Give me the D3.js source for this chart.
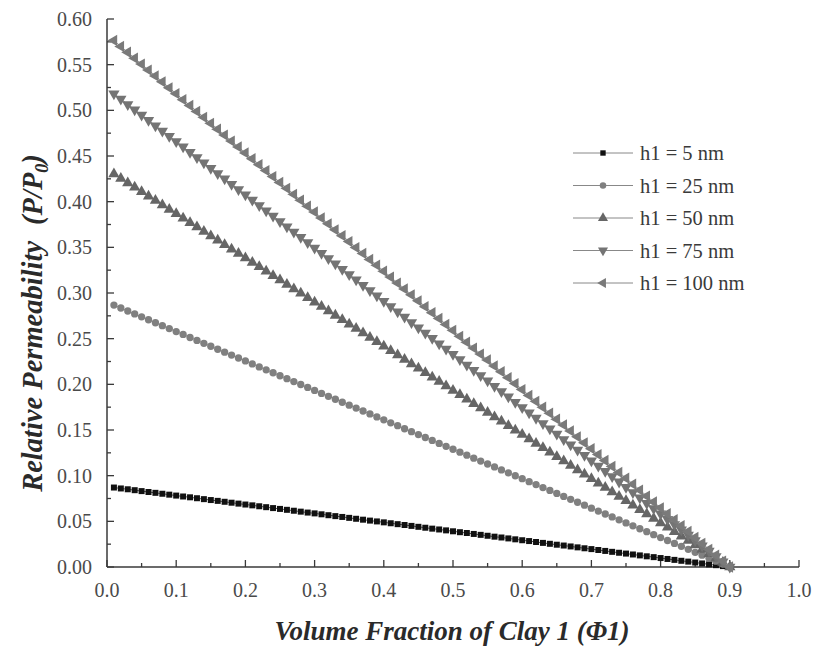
<!DOCTYPE html>
<html>
<head>
<meta charset="utf-8">
<script src="https://cdn.jsdelivr.net/npm/d3@7"></script>
<style>
  body { margin: 0; background: #fff; }
</style>
</head>
<body>
<div id="chart"></div>
<script>
// volume fraction of clay 1
const phi = [0.01,0.02,0.03,0.04,0.05,0.06,0.07,0.08,0.09,0.10,
  0.11,0.12,0.13,0.14,0.15,0.16,0.17,0.18,0.19,0.20,
  0.21,0.22,0.23,0.24,0.25,0.26,0.27,0.28,0.29,0.30,
  0.31,0.32,0.33,0.34,0.35,0.36,0.37,0.38,0.39,0.40,
  0.41,0.42,0.43,0.44,0.45,0.46,0.47,0.48,0.49,0.50,
  0.51,0.52,0.53,0.54,0.55,0.56,0.57,0.58,0.59,0.60,
  0.61,0.62,0.63,0.64,0.65,0.66,0.67,0.68,0.69,0.70,
  0.71,0.72,0.73,0.74,0.75,0.76,0.77,0.78,0.79,0.80,
  0.81,0.82,0.83,0.84,0.85,0.86,0.87,0.88,0.89,0.90];

// relative permeability for each h1
const h5 = [0.0870,0.0860,0.0851,0.0841,0.0831,0.0821,0.0812,0.0802,0.0792,0.0782,
  0.0772,0.0763,0.0753,0.0743,0.0733,0.0724,0.0714,0.0704,0.0694,0.0684,
  0.0675,0.0665,0.0655,0.0645,0.0636,0.0626,0.0616,0.0606,0.0596,0.0587,
  0.0577,0.0567,0.0557,0.0548,0.0538,0.0528,0.0518,0.0508,0.0499,0.0489,
  0.0479,0.0469,0.0460,0.0450,0.0440,0.0430,0.0420,0.0411,0.0401,0.0391,
  0.0381,0.0372,0.0362,0.0352,0.0342,0.0332,0.0323,0.0313,0.0303,0.0293,
  0.0284,0.0274,0.0264,0.0254,0.0244,0.0235,0.0225,0.0215,0.0205,0.0196,
  0.0186,0.0176,0.0166,0.0156,0.0147,0.0137,0.0127,0.0117,0.0108,0.0098,
  0.0088,0.0078,0.0068,0.0059,0.0049,0.0039,0.0029,0.0020,0.0010,0.0000];
const h25 = [0.2868,0.2836,0.2803,0.2771,0.2739,0.2707,0.2674,0.2642,0.2610,0.2578,
  0.2546,0.2513,0.2481,0.2449,0.2417,0.2384,0.2352,0.2320,0.2288,0.2256,
  0.2223,0.2191,0.2159,0.2127,0.2094,0.2062,0.2030,0.1998,0.1966,0.1933,
  0.1901,0.1869,0.1837,0.1804,0.1772,0.1740,0.1708,0.1676,0.1643,0.1611,
  0.1579,0.1547,0.1514,0.1482,0.1450,0.1418,0.1386,0.1353,0.1321,0.1289,
  0.1257,0.1224,0.1192,0.1160,0.1128,0.1096,0.1063,0.1031,0.0999,0.0967,
  0.0934,0.0902,0.0870,0.0838,0.0806,0.0773,0.0741,0.0709,0.0677,0.0644,
  0.0612,0.0580,0.0548,0.0516,0.0483,0.0451,0.0419,0.0387,0.0354,0.0322,
  0.0290,0.0258,0.0226,0.0193,0.0161,0.0129,0.0097,0.0064,0.0032,0.0000];
const h50 = [0.4302,0.4253,0.4205,0.4157,0.4108,0.4060,0.4012,0.3963,0.3915,0.3867,
  0.3818,0.3770,0.3722,0.3673,0.3625,0.3577,0.3528,0.3480,0.3432,0.3383,
  0.3335,0.3287,0.3238,0.3190,0.3142,0.3093,0.3045,0.2997,0.2948,0.2900,
  0.2852,0.2803,0.2755,0.2707,0.2658,0.2610,0.2562,0.2513,0.2465,0.2417,
  0.2368,0.2320,0.2272,0.2223,0.2175,0.2127,0.2078,0.2030,0.1982,0.1933,
  0.1885,0.1837,0.1788,0.1740,0.1692,0.1643,0.1595,0.1547,0.1498,0.1450,
  0.1402,0.1353,0.1305,0.1257,0.1208,0.1160,0.1112,0.1063,0.1015,0.0967,
  0.0918,0.0870,0.0822,0.0773,0.0725,0.0677,0.0628,0.0580,0.0532,0.0483,
  0.0435,0.0387,0.0338,0.0290,0.0242,0.0193,0.0145,0.0097,0.0048,0.0000];
const h75 = [0.5182,0.5124,0.5065,0.5007,0.4949,0.4891,0.4832,0.4774,0.4716,0.4658,
  0.4600,0.4541,0.4483,0.4425,0.4367,0.4308,0.4250,0.4192,0.4134,0.4076,
  0.4017,0.3959,0.3901,0.3843,0.3784,0.3726,0.3668,0.3610,0.3552,0.3493,
  0.3435,0.3377,0.3319,0.3260,0.3202,0.3144,0.3086,0.3028,0.2969,0.2911,
  0.2853,0.2795,0.2736,0.2678,0.2620,0.2562,0.2504,0.2445,0.2387,0.2329,
  0.2271,0.2212,0.2154,0.2096,0.2038,0.1980,0.1921,0.1863,0.1805,0.1747,
  0.1688,0.1630,0.1572,0.1514,0.1456,0.1397,0.1339,0.1281,0.1223,0.1164,
  0.1106,0.1048,0.0990,0.0932,0.0873,0.0815,0.0757,0.0699,0.0640,0.0582,
  0.0524,0.0466,0.0408,0.0349,0.0291,0.0233,0.0175,0.0116,0.0058,0.0000];
const h100 = [0.5765,0.5700,0.5636,0.5571,0.5506,0.5441,0.5377,0.5312,0.5247,0.5182,
  0.5117,0.5053,0.4988,0.4923,0.4858,0.4794,0.4729,0.4664,0.4599,0.4534,
  0.4470,0.4405,0.4340,0.4275,0.4211,0.4146,0.4081,0.4016,0.3951,0.3887,
  0.3822,0.3757,0.3692,0.3628,0.3563,0.3498,0.3433,0.3368,0.3304,0.3239,
  0.3174,0.3109,0.3045,0.2980,0.2915,0.2850,0.2785,0.2721,0.2656,0.2591,
  0.2526,0.2462,0.2397,0.2332,0.2267,0.2202,0.2138,0.2073,0.2008,0.1943,
  0.1879,0.1814,0.1749,0.1684,0.1619,0.1555,0.1490,0.1425,0.1360,0.1296,
  0.1231,0.1166,0.1101,0.1036,0.0972,0.0907,0.0842,0.0777,0.0713,0.0648,
  0.0583,0.0518,0.0453,0.0389,0.0324,0.0259,0.0194,0.0130,0.0065,0.0000];

const seriesNames = ["h1 = 5 nm", "h1 = 25 nm", "h1 = 50 nm", "h1 = 75 nm", "h1 = 100 nm"];
const seriesValues = [h5, h25, h50, h75, h100];
const xTicks = [0.0,0.1,0.2,0.3,0.4,0.5,0.6,0.7,0.8,0.9,1.0];
const yTicks = [0.00,0.05,0.10,0.15,0.20,0.25,0.30,0.35,0.40,0.45,0.50,0.55,0.60];

const width = 814, height = 648;
const margin = { top: 19, right: 15, bottom: 81, left: 107 };
const serif = '"Liberation Serif", "Times New Roman", serif';

const svg = d3.select("#chart").append("svg")
  .attr("width", width).attr("height", height)
  .style("font-family", serif);

const x = d3.scaleLinear().domain([0, 1]).range([margin.left, 799]);
const y = d3.scaleLinear().domain([0, 0.6]).range([567, margin.top]);

// marker styles
const styles = [
  { sym: d3.symbolSquare, size: 36, fill: "#111", rot: 0, line: "#555" },
  { sym: d3.symbolCircle, size: 42, fill: "#808080", rot: 0, line: "#999" },
  { sym: d3.symbolTriangle, size: 55, fill: "#666", rot: 0, line: "#888" },
  { sym: d3.symbolTriangle, size: 55, fill: "#747474", rot: 180, line: "#888" },
  { sym: d3.symbolTriangle, size: 55, fill: "#7a7a7a", rot: -90, line: "#999" }
];

const axisColor = "#3a3a3a";

// axes (ticks inward)
const xAxis = svg.append("g").attr("transform", `translate(0,${y(0)})`);
xAxis.append("line").attr("x1", x(0)).attr("x2", x(1)).attr("stroke", axisColor).attr("stroke-width", 1.5);
xAxis.selectAll(".major").data(xTicks).enter().append("line")
  .attr("x1", d => x(d)).attr("x2", d => x(d)).attr("y1", 0).attr("y2", -7)
  .attr("stroke", axisColor).attr("stroke-width", 1.3);
xAxis.selectAll(".minor").data(xTicks.slice(0, -1)).enter().append("line")
  .attr("x1", d => x(d + 0.05)).attr("x2", d => x(d + 0.05)).attr("y1", 0).attr("y2", -4)
  .attr("stroke", axisColor).attr("stroke-width", 1.3);
xAxis.selectAll(".lbl").data(xTicks).enter().append("text")
  .attr("x", d => x(d)).attr("y", 30)
  .attr("text-anchor", "middle").attr("font-size", "20px").attr("fill", "#4a4a4a")
  .text(d => d3.format(".1f")(d));

const yAxis = svg.append("g").attr("transform", `translate(${x(0)},0)`);
yAxis.append("line").attr("y1", y(0)).attr("y2", y(0.6)).attr("stroke", axisColor).attr("stroke-width", 1.5);
yAxis.selectAll(".major").data(yTicks).enter().append("line")
  .attr("y1", d => y(d)).attr("y2", d => y(d)).attr("x1", 0).attr("x2", 7)
  .attr("stroke", axisColor).attr("stroke-width", 1.3);
yAxis.selectAll(".minor").data(yTicks.slice(0, -1)).enter().append("line")
  .attr("y1", d => y(d + 0.025)).attr("y2", d => y(d + 0.025)).attr("x1", 0).attr("x2", 4)
  .attr("stroke", axisColor).attr("stroke-width", 1.3);
yAxis.selectAll(".lbl").data(yTicks).enter().append("text")
  .attr("x", -15).attr("y", d => y(d)).attr("dy", "0.35em")
  .attr("text-anchor", "end").attr("font-size", "20px").attr("fill", "#4a4a4a")
  .text(d => d3.format(".2f")(d));

// series
seriesValues.forEach((vals, i) => {
  const st = styles[i];
  const pts = phi.map((p, j) => [p, vals[j]]);
  svg.append("path")
    .datum(pts)
    .attr("fill", "none").attr("stroke", st.line).attr("stroke-width", 1)
    .attr("d", d3.line().x(d => x(d[0])).y(d => y(d[1])));
  svg.append("g").selectAll("path").data(pts).enter().append("path")
    .attr("transform", d => `translate(${x(d[0])},${y(d[1])}) rotate(${st.rot})`)
    .attr("d", d3.symbol().type(st.sym).size(st.size))
    .attr("fill", st.fill);
});

// legend
const legend = svg.append("g").attr("transform", "translate(573,153)");
seriesNames.forEach((name, i) => {
  const st = styles[i];
  const row = legend.append("g").attr("transform", `translate(0,${i * 32.5})`);
  row.append("line").attr("x1", 0).attr("x2", 60).attr("stroke", "#888").attr("stroke-width", 1);
  row.append("path")
    .attr("transform", `translate(30,0) rotate(${st.rot})`)
    .attr("d", d3.symbol().type(st.sym).size(st.size * 0.8))
    .attr("fill", st.fill);
  row.append("text").attr("x", 67).attr("y", 0).attr("dy", "0.35em")
    .attr("font-size", "20.5px").attr("fill", "#3a3a3a").text(name);
});

// axis titles
svg.append("text")
  .attr("x", 452).attr("y", 640)
  .attr("text-anchor", "middle")
  .attr("font-size", "27px").attr("font-weight", "bold").attr("font-style", "italic").attr("fill", "#2a2a2a")
  .text("Volume Fraction of Clay 1 (\u03A61)");

const yt = svg.append("text")
  .attr("transform", "translate(42,323) rotate(-90)")
  .attr("text-anchor", "middle")
  .attr("font-size", "28.5px").attr("font-weight", "bold").attr("font-style", "italic").attr("fill", "#2a2a2a");
yt.append("tspan").text("Relative Permeability");
yt.append("tspan").attr("dx", 16).text("(P/P");
yt.append("tspan").attr("font-size", "18px").attr("dy", 6).text("0");
yt.append("tspan").attr("dy", -6).text(")");
</script>
</body>
</html>
